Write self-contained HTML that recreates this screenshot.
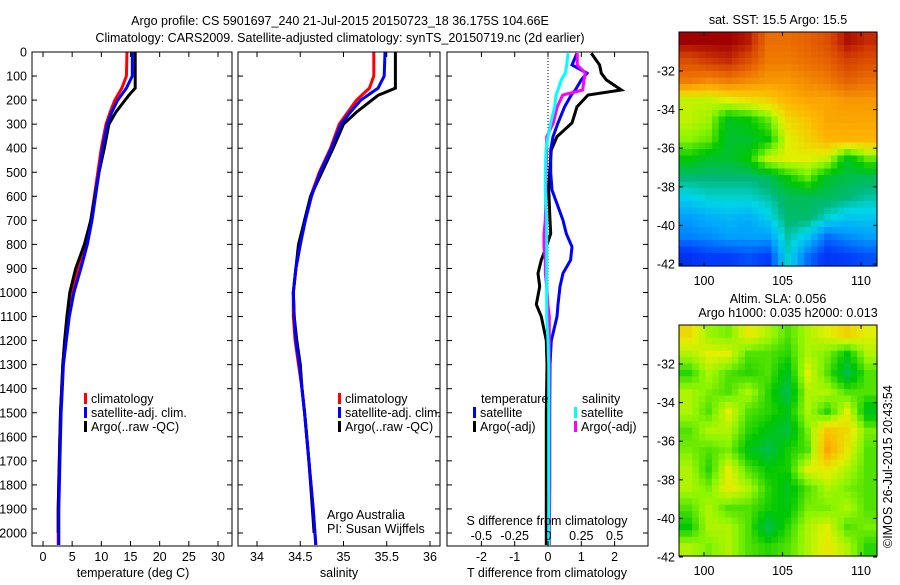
<!DOCTYPE html>
<html><head><meta charset="utf-8">
<style>
html,body{margin:0;padding:0;background:#fff;}
svg text{font-family:"Liberation Sans",sans-serif;font-size:12.5px;fill:#000;}
</style></head>
<body>
<svg id="fig" width="900" height="580" viewBox="0 0 900 580" xmlns="http://www.w3.org/2000/svg">
<text x="340" y="25" text-anchor="middle" font-size="13.5">Argo profile: CS 5901697_240 21-Jul-2015 20150723_18 36.175S 104.66E</text>
<text x="340" y="42" text-anchor="middle" font-size="13.5">Climatology: CARS2009. Satellite-adjusted climatology: synTS_20150719.nc (2d earlier)</text>
<g id="g1"></g>
<g id="g2"></g>
<g id="g3"></g>
<g id="gm1"></g>
<g id="gm2"></g>
<text transform="translate(892,548) rotate(-90)" font-size="12.5">©IMOS 26-Jul-2015 20:43:54</text>
</svg>
<script>
// ---- data ----
const depthTicks=[0,100,200,300,400,500,600,700,800,900,1000,1100,1200,1300,1400,1500,1600,1700,1800,1900,2000];
const tempTicks=[0,5,10,15,20,25,30];
const salTicks=[34,34.5,35,35.5,36];
const salTickLabels=["34","34.5","35","35.5","36"];
const tdiffTicks=[-2,-1,0,1,2];
const sdiffTicks=[-0.5,-0.25,0,0.25,0.5];
const sdiffTickLabels=["-0.5","-0.25","0","0.25","0.5"];

const climDepth=[0,100,150,200,250,300,400,500,600,700,800,900,1000,1100,1200,1300,1400,1500,1700,1900,2050];
const climTemp=[14.4,14.3,13.5,12.3,11.5,10.8,10.0,9.4,8.8,8.2,7.2,6.0,5.0,4.3,3.8,3.4,3.2,3.0,2.8,2.6,2.6];
const satTemp=[15.3,15.3,14.3,12.8,11.8,11.0,10.2,9.6,9.0,8.4,7.6,6.5,5.3,4.5,4.0,3.5,3.3,3.1,2.9,2.7,2.7];
const climSal=[35.35,35.35,35.3,35.15,35.05,34.95,34.85,34.72,34.62,34.55,34.5,34.45,34.42,34.42,34.44,34.48,34.52,34.55,34.6,34.65,34.68];
const satSal=[35.48,35.47,35.4,35.2,35.08,34.97,34.86,34.73,34.63,34.56,34.5,34.45,34.42,34.43,34.45,34.49,34.52,34.55,34.6,34.65,34.68];

const argoDepth=[0,150,180,250,300,400,500,600,700,800,900,1000,1100,1200,1300,1400,1500,1700,1900,2000];
const argoTemp=[15.8,15.8,14.7,12.5,11.3,10.5,9.6,8.9,8.2,7.1,5.6,4.6,4.1,3.7,3.4,3.2,3.0,2.8,2.6,2.6];
const argoSal=[35.6,35.6,35.4,35.15,35.0,34.88,34.75,34.62,34.55,34.48,34.45,34.42,34.43,34.46,34.5,34.52,34.55,34.6,34.64,34.66];

const diffDepth=[5,54,88,116,158,179,228,295,352,407,500,574,700,755,810,865,920,975,1050,1100,1200,1300,1500,1800,2050];
const tdiffSat=[0.87,0.72,1.17,1.0,0.82,0.7,0.5,0.3,0.15,0.08,0.08,0.12,0.45,0.55,0.72,0.68,0.45,0.36,0.3,0.27,0.1,0.06,0.05,0.05,0.04];
const tdiffArgo=[1.3,1.55,1.6,1.75,2.2,1.2,0.87,0.72,0.27,0.1,0.05,0.02,0.06,0.08,-0.05,-0.2,-0.3,-0.25,-0.35,-0.2,-0.05,-0.03,-0.05,-0.05,-0.05];
const sdiffSat=[0.15,0.14,0.13,0.1,0.075,0.06,0.05,0.02,0,-0.015,-0.02,-0.02,-0.01,-0.01,-0.01,-0.01,-0.01,-0.01,-0.01,-0.01,0,0.005,0.005,0.005,0.005];
const sdiffArgo=[0.22,0.22,0.28,0.27,0.26,0.11,0.07,0.04,-0.01,-0.01,-0.015,-0.015,-0.02,-0.03,-0.03,-0.02,-0.02,-0.01,0.0,0.01,0.01,0.01,0.01,0.01,0.01];

const sstGrid=[
[0.95,0.95,0.95,0.92,0.8,0.8,0.82,0.85,0.93,0.9],
[0.85,0.88,0.9,0.85,0.78,0.78,0.8,0.82,0.87,0.85],
[0.78,0.76,0.78,0.76,0.74,0.74,0.76,0.78,0.82,0.8],
[0.6,0.6,0.62,0.64,0.66,0.7,0.72,0.72,0.74,0.74],
[0.6,0.58,0.48,0.5,0.55,0.65,0.68,0.72,0.72,0.72],
[0.57,0.55,0.47,0.47,0.5,0.62,0.66,0.7,0.7,0.7],
[0.5,0.47,0.47,0.5,0.6,0.62,0.62,0.6,0.48,0.55],
[0.42,0.42,0.42,0.42,0.44,0.5,0.55,0.47,0.45,0.44],
[0.36,0.38,0.38,0.38,0.4,0.44,0.44,0.44,0.42,0.4],
[0.3,0.32,0.33,0.32,0.36,0.43,0.43,0.38,0.35,0.35],
[0.27,0.28,0.3,0.3,0.3,0.4,0.35,0.25,0.28,0.3],
[0.17,0.2,0.2,0.22,0.2,0.38,0.25,0.18,0.2,0.22]];
const slaGrid=[
[0.65,0.58,0.56,0.63,0.59,0.54,0.59,0.62,0.66,0.62],
[0.59,0.62,0.62,0.54,0.54,0.52,0.59,0.56,0.5,0.59],
[0.52,0.59,0.54,0.52,0.54,0.48,0.62,0.54,0.45,0.54],
[0.59,0.56,0.54,0.59,0.52,0.45,0.59,0.59,0.54,0.54],
[0.59,0.54,0.62,0.54,0.52,0.49,0.59,0.52,0.62,0.48],
[0.54,0.59,0.59,0.52,0.49,0.46,0.56,0.68,0.65,0.56],
[0.56,0.54,0.56,0.49,0.45,0.51,0.54,0.72,0.63,0.54],
[0.59,0.52,0.62,0.54,0.5,0.51,0.62,0.63,0.59,0.54],
[0.59,0.56,0.63,0.59,0.52,0.48,0.54,0.59,0.56,0.54],
[0.54,0.59,0.54,0.54,0.51,0.49,0.56,0.56,0.59,0.54],
[0.5,0.59,0.59,0.54,0.45,0.52,0.59,0.62,0.54,0.56],
[0.59,0.56,0.59,0.54,0.52,0.54,0.59,0.63,0.59,0.52]];
const lonTicks=[100,105,110];
const latTicks=[-32,-34,-36,-38,-40,-42];

// ---- helpers ----
const NS="http://www.w3.org/2000/svg";
function mk(parent,tag,attrs,txt){const e=document.createElementNS(NS,tag);for(const k in attrs)e.setAttribute(k,attrs[k]);if(txt!==undefined)e.textContent=txt;parent.appendChild(e);return e;}
const top0=52,bot0=546;
const yD=d=>top0+(d-0)*(533-52)/2000;

function frame(g,L,R,T,B){
  const r=mk(g,'rect',{x:L,y:T,width:R-L,height:B-T,fill:'none',stroke:'#000','stroke-width':1});
  
  
}
function depthAxis(g,L,R,labels){
  depthTicks.forEach(d=>{const y=yD(d);
    mk(g,'line',{x1:L,x2:L+5,y1:y,y2:y,stroke:'#000'});
    mk(g,'line',{x1:R,x2:R-5,y1:y,y2:y,stroke:'#000'});
    if(labels){const t=mk(g,'text',{x:L-5,y:y+4.5,'text-anchor':'end'},String(d));
      
      }
  });
}
function xAxis(g,vals,labs,xf,yLab,T,B){
  vals.forEach((v,i)=>{const x=xf(v);
    mk(g,'line',{x1:x,x2:x,y1:B,y2:B-5,stroke:'#000'});
    mk(g,'line',{x1:x,x2:x,y1:T,y2:T+5,stroke:'#000'});
    const t=mk(g,'text',{x:x,y:yLab,'text-anchor':'middle'},labs[i]);
    
    
  });
}
function line(g,xs,ds,xf,col,name){
  const pts=xs.map((v,i)=>xf(v).toFixed(1)+','+yD(ds[i]).toFixed(1)).join(' ');
  const p=mk(g,'polyline',{points:pts,fill:'none',stroke:col,'stroke-width':3,'stroke-linejoin':'miter'});
  
  
}
function legend(g,x,y,col,label){
  const r=mk(g,'rect',{x:x,y:y-9,width:3,height:11,fill:col});
  
  
  const t=mk(g,'text',{x:x+7,y:y+1},label);
  
  
}

// ---- panel 1 temperature ----
(function(){const g=document.getElementById('g1');const L=32,R=232;
  const xf=v=>43+v*(218-43)/30;
  line(g,climTemp,climDepth,xf,'#f00','climatology-temp-line');
  line(g,argoTemp,argoDepth,xf,'#000','argo-temp-line');
  line(g,satTemp,climDepth,xf,'#00f','satellite-temp-line');
  frame(g,L,R,top0,bot0);depthAxis(g,L,R,true);
  xAxis(g,tempTicks,tempTicks.map(String),xf,561,top0,bot0);
  const t=mk(g,'text',{x:133,y:577,'text-anchor':'middle'},'temperature (deg C)');
  
  legend(g,84,402,'#f00','climatology');legend(g,84,416,'#00f','satellite-adj. clim.');legend(g,84,430,'#000','Argo(..raw -QC)');
})();
// ---- panel 2 salinity ----
(function(){const g=document.getElementById('g2');const L=238,R=440;
  const xf=v=>257+(v-34)*86.5;
  line(g,climSal,climDepth,xf,'#f00','climatology-sal-line');
  line(g,argoSal,argoDepth,xf,'#000','argo-sal-line');
  line(g,satSal,climDepth,xf,'#00f','satellite-sal-line');
  frame(g,L,R,top0,bot0);depthAxis(g,L,R,false);
  xAxis(g,salTicks,salTickLabels,xf,561,top0,bot0);
  const t=mk(g,'text',{x:339,y:577,'text-anchor':'middle'},'salinity');
  
  legend(g,338,402,'#f00','climatology');legend(g,338,416,'#00f','satellite-adj. clim.');legend(g,338,430,'#000','Argo(..raw -QC)');
  const a=mk(g,'text',{x:327,y:519},'Argo Australia');
  const b=mk(g,'text',{x:327,y:533},'PI: Susan Wijffels');
})();
// ---- panel 3 differences ----
(function(){const g=document.getElementById('g3');const L=447,R=648;
  const xt=v=>548+v*33.3, xs=v=>548+v*133.3;
  const z=mk(g,'line',{x1:xt(0),x2:xt(0),y1:top0,y2:bot0,stroke:'#000','stroke-dasharray':'1,2'});
  
  line(g,tdiffArgo,diffDepth,xt,'#000','argo-temp-diff-line');
  line(g,tdiffSat,diffDepth,xt,'#00f','satellite-temp-diff-line');
  line(g,sdiffArgo,diffDepth,xs,'#f0f','argo-sal-diff-line');
  line(g,sdiffSat,diffDepth,xs,'#0ff','satellite-sal-diff-line');
  frame(g,L,R,top0,bot0);depthAxis(g,L,R,false);
  xAxis(g,tdiffTicks,tdiffTicks.map(String),xt,561,top0,bot0);
  sdiffTicks.forEach((v,i)=>{const t=mk(g,'text',{x:xs(v),y:540,'text-anchor':'middle'},sdiffTickLabels[i]);
    });
  const s=mk(g,'text',{x:547,y:525,'text-anchor':'middle'},'S difference from climatology');
  
  const t=mk(g,'text',{x:547,y:577,'text-anchor':'middle'},'T difference from climatology');
  
  const h1=mk(g,'text',{x:481,y:403},'temperature');
  const h2=mk(g,'text',{x:582,y:403},'salinity');
  legend(g,473,416,'#00f','satellite');legend(g,473,430,'#000','Argo(-adj)');
  legend(g,574,416,'#0ff','satellite');legend(g,574,430,'#f0f','Argo(-adj)');
})();
// ---- maps ----
const cmapStops=[[0,[0,0,140]],[0.2,[0,60,255]],[0.3,[0,160,255]],[0.37,[0,215,230]],[0.42,[0,185,120]],[0.5,[0,200,0]],[0.57,[140,245,0]],[0.62,[225,240,0]],[0.7,[255,180,0]],[0.8,[235,110,0]],[0.88,[210,60,0]],[0.95,[160,0,0]],[1,[140,0,0]]];
function cmap(v){v=Math.max(0,Math.min(1,v));
  for(let i=1;i<cmapStops.length;i++){const [a,ca]=cmapStops[i-1],[b,cb]=cmapStops[i];
    if(v<=b){const f=(v-a)/(b-a);return `rgb(${ca.map((c,k)=>Math.round(c+(cb[k]-c)*f)).join(',')})`;}}
  return 'rgb(140,0,0)';}
function sampleGrid(grid,fi,fj){
  const rows=grid.length,cols=grid[0].length;
  fi=Math.max(0,Math.min(rows-1,fi));fj=Math.max(0,Math.min(cols-1,fj));
  const i0=Math.floor(fi),j0=Math.floor(fj),i1=Math.min(rows-1,i0+1),j1=Math.min(cols-1,j0+1),di=fi-i0,dj=fj-j0;
  return grid[i0][j0]*(1-di)*(1-dj)+grid[i0][j1]*(1-di)*dj+grid[i1][j0]*di*(1-dj)+grid[i1][j1]*di*dj;}
function map(id,grid,T,B,title1,title2){
  const g=document.getElementById(id);const L=679,R=877;
  const lonX=v=>704+(v-100)*(861-704)/10;
  const latY=v=>(T+39)+(-32-v)*19.3;
  const rows=grid.length,cols=grid[0].length,S=3;
  const cw=(R-L)/(cols*S),ch=(B-T)/(rows*S);
  for(let i=0;i<rows*S;i++)for(let j=0;j<cols*S;j++){
    const v=sampleGrid(grid,(i+0.5)/S-0.5,(j+0.5)/S-0.5);
    const c=mk(g,'rect',{x:(L+j*cw).toFixed(2),y:(T+i*ch).toFixed(2),width:(cw+0.6).toFixed(2),height:(ch+0.6).toFixed(2),fill:cmap(v)});
    
    
  }
  frame(g,L,R,T,B);
  lonTicks.forEach(v=>{const x=lonX(v);mk(g,'line',{x1:x,x2:x,y1:B,y2:B-4,stroke:'#000'});mk(g,'line',{x1:x,x2:x,y1:T,y2:T+4,stroke:'#000'});
    const t=mk(g,'text',{x:x,y:B+19,'text-anchor':'middle'},String(v));});
  latTicks.forEach(v=>{const y=latY(v);mk(g,'line',{x1:L,x2:L+4,y1:y,y2:y,stroke:'#000'});mk(g,'line',{x1:R,x2:R-4,y1:y,y2:y,stroke:'#000'});
    const t=mk(g,'text',{x:L-4,y:y+4.5,'text-anchor':'end'},String(v));});
  const a=mk(g,'text',{x:778,y:title2?T-22:T-8,'text-anchor':'middle'},title1);
  if(title2){const b=mk(g,'text',{x:788,y:T-8,'text-anchor':'middle'},title2);}
}
map('gm1',sstGrid,32,266,'sat. SST: 15.5 Argo: 15.5');
map('gm2',slaGrid,325,556,'Altim. SLA: 0.056','Argo h1000: 0.035 h2000: 0.013');
</script>
</body></html>
